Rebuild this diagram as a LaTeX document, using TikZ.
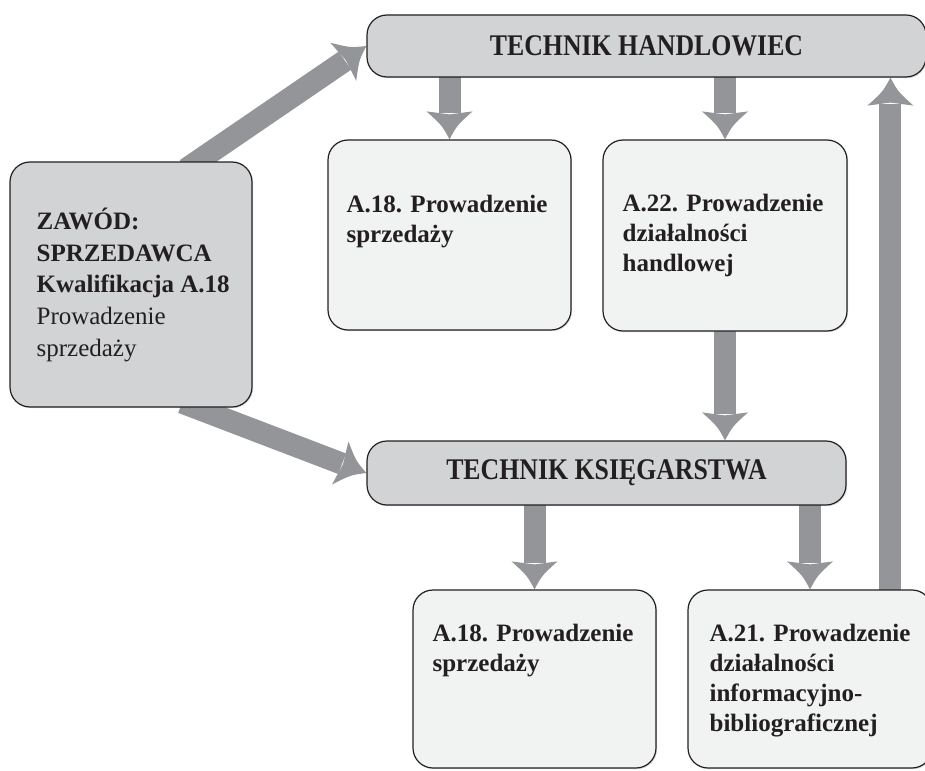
\documentclass[tikz,border=0pt]{standalone}
\usepackage{fontspec}
\usepackage{graphicx}
\setmainfont{Liberation Serif}
\usetikzlibrary{calc,shadows,backgrounds}

\definecolor{boxdark}{HTML}{D1D3D4}
\definecolor{boxlight}{HTML}{F1F2F2}
\definecolor{arrowgray}{HTML}{939598}
\definecolor{ink}{HTML}{231F20}

\tikzset{
  box/.style={draw=ink, line width=1.2pt, rounded corners=20pt, inner sep=0pt,
    drop shadow={shadow xshift=1.2pt, shadow yshift=-1.2pt, opacity=0.25}},
  darkbox/.style={box, fill=boxdark},
  lightbox/.style={box, fill=boxlight},
  titletext/.style={font=\fontsize{30}{34}\selectfont\bfseries, text=ink},
  label/.style={font=\fontsize{25}{30}\selectfont\bfseries, text=ink,
    inner sep=0pt, anchor=base west},
}

% lines of a box text, baseline at the first line
\newcommand\boxlines[1]{\begin{tabular}[t]{@{}l@{}}#1\end{tabular}}

% thick grey arrow: shaft plus a head with concave flanks
\newcommand\fatarrow[2]{%
  \coordinate (fa-s) at (#1);
  \coordinate (fa-t) at (#2);
  \coordinate (fa-b) at ($(fa-t)!28pt!(fa-s)$);
  \coordinate (fa-m) at ($(fa-t)!14pt!(fa-s)$);
  \coordinate (fa-i) at ($(fa-t)!25pt!(fa-s)$);
  \fill[arrowgray] (fa-t) .. controls ($(fa-m)!7.5pt!90:(fa-t)$) .. ($(fa-b)!23pt!90:(fa-t)$)
    -- (fa-i) -- ($(fa-b)!23pt!-90:(fa-t)$) .. controls ($(fa-m)!7.5pt!-90:(fa-t)$) .. (fa-t) -- cycle;
  \draw[arrowgray, line width=22pt] ($(fa-s)!-14pt!(fa-t)$) -- ($(fa-t)!26pt!(fa-s)$);
}

\begin{document}
\begin{tikzpicture}[x=1pt, y=-1pt]
  \useasboundingbox (0,0) rectangle (925,770);
  \clip (0,0) rectangle (925,770);

  % boxes
  \node[darkbox, titletext, minimum width=559pt, minimum height=62pt] (th) at (646.5,46)
    {\scalebox{0.86}[1]{TECHNIK HANDLOWIEC}};
  \node[darkbox, titletext, minimum width=479pt, minimum height=64pt] (tk) at (606.5,473)
    {\scalebox{0.86}[1]{TECHNIK KSIĘGARSTWA}};
  \node[darkbox, minimum width=242pt, minimum height=245pt] (zawod) at (131,284.5) {};
  \node[lightbox, minimum width=243pt, minimum height=190pt] (a18t) at (449.5,235) {};
  \node[lightbox, minimum width=244pt, minimum height=191pt] (a22) at (725,235.5) {};
  \node[lightbox, minimum width=243pt, minimum height=178pt] (a18b) at (534.5,679) {};
  \node[lightbox, minimum width=244pt, minimum height=178pt] (a21) at (810,679) {};

  % box texts
  \node[label, font=\fontsize{25}{31.7}\selectfont\bfseries] (zawodtxt) at ($(zawod.north west)+(27,68)$)
    {\boxlines{ZAWÓD:\\SPRZEDAWCA\\Kwalifikacja A.18\\\mdseries Prowadzenie\\\mdseries sprzedaży}};
  \node[label] (a18ttxt) at ($(a18t.north west)+(19,73)$) {\boxlines{A.18. Prowadzenie\\sprzedaży}};
  \node[label] (a22txt) at ($(a22.north west)+(20,72)$) {\boxlines{A.22. Prowadzenie\\działalności\\handlowej}};
  \node[label] (a18btxt) at ($(a18b.north west)+(20,52)$) {\boxlines{A.18. Prowadzenie\\sprzedaży}};
  \node[label] (a21txt) at ($(a21.north west)+(22,52)$)
    {\boxlines{A.21. Prowadzenie\\działalności\\informacyjno-\\bibliograficznej}};

  % connectors, under the boxes
  \begin{scope}[on background layer]
    \fatarrow{$(zawod.north west)!0.773!(zawod.north east)$}{th.west}
    \fatarrow{$(zawod.south west)!0.764!(zawod.south east)$}{tk.west}
    \fatarrow{a18t.north |- th.south}{a18t.north}
    \fatarrow{a22.north |- th.south}{a22.north}
    \fatarrow{a22.south}{a22.south |- tk.north}
    \fatarrow{a18b.north |- tk.south}{a18b.north}
    \fatarrow{a21.north |- tk.south}{a21.north}
    \coordinate (upfoot) at ($(a21.north west)!0.828!(a21.north east)$);
    \fatarrow{upfoot}{upfoot |- th.south}
  \end{scope}
\end{tikzpicture}
\end{document}
